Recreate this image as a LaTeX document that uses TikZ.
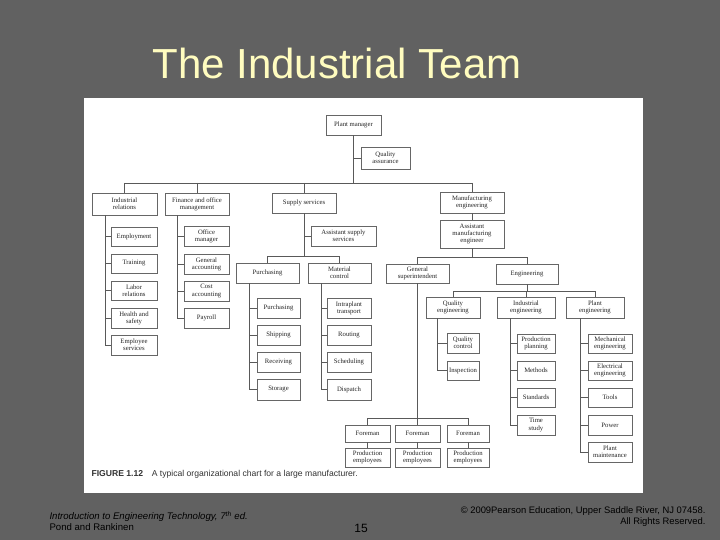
\documentclass[tikz,border=0pt]{standalone}
\usepackage{fontspec}
\setmainfont{Liberation Serif}
\newfontfamily\sansf{Liberation Sans}
\begin{document}
\begin{tikzpicture}[x=1pt,y=-1pt,
  box/.style={draw=black!60,line width=0.6pt,fill=white,inner sep=0pt,align=center,font=\fontsize{6.7}{7.2}\selectfont,text=black!85},
  ln/.style={draw=black!65,line width=0.6pt}]
\fill[black!62] (0,0) rectangle (720,540);
\useasboundingbox (0,0) rectangle (720,540);
\fill[white] (84,98) rectangle (643,493);
\node[text=yellow!25!white,font=\sansf\fontsize{42}{44}\selectfont] (title) at (337,63) {The Industrial Team};
\newcommand\bx[6]{\node[box,minimum width={#4-#2},minimum height={#5-#3}] (#1) at ({(#2+#4)/2},{(#3+#5)/2}) {#6};}
\newcommand\spine[4]{\coordinate (s#1) at (#2,0); \draw[ln] (s#1 |- #1.south) -- (s#1 |- #3.west);
  \foreach \c in {#4}{\draw[ln] (s#1 |- \c.west) -- (\c.west);}}
% boxes
\bx{pm}{326}{115}{381}{135}{Plant manager}
\bx{qa}{361}{147}{410}{169}{Quality\\assurance}
\bx{ir}{92}{193}{157}{215}{Industrial\\relations}
\bx{fo}{165}{193}{229}{215}{Finance and office\\management}
\bx{ss}{272}{193}{336}{213}{Supply services}
\bx{me}{440}{192}{504}{213}{Manufacturing\\engineering}
\bx{ame}{440}{220}{504}{248}{Assistant\\manufacturing\\engineer}
\bx{emp}{111}{227}{157}{246}{Employment}
\bx{tr}{111}{254}{157}{273}{Training}
\bx{lr}{111}{281}{157}{300}{Labor\\relations}
\bx{hs}{111}{308}{157}{328}{Health and\\safety}
\bx{es}{111}{335}{157}{355}{Employee\\services}
\bx{om}{184}{226}{229}{246}{Office\\manager}
\bx{ga}{184}{254}{229}{274}{General\\accounting}
\bx{ca}{184}{281}{229}{301}{Cost\\accounting}
\bx{pay}{184}{308}{229}{328}{Payroll}
\bx{ass}{311}{226}{376}{246}{Assistant supply\\services}
\bx{pu}{236}{263}{299}{283}{Purchasing}
\bx{mc}{308}{263}{371}{283}{Material\\control}
\bx{pu1}{257}{298}{300}{318}{Purchasing}
\bx{sh}{257}{325}{300}{345}{Shipping}
\bx{re}{257}{352}{300}{372}{Receiving}
\bx{st}{257}{379}{300}{400}{Storage}
\bx{it}{327}{298}{371}{318}{Intraplant\\transport}
\bx{ro}{327}{325}{371}{345}{Routing}
\bx{sc}{327}{352}{371}{372}{Scheduling}
\bx{di}{327}{379}{371}{400}{Dispatch}
\bx{gs}{386}{264}{449}{283}{General\\superintendent}
\bx{en}{496}{264}{558}{284}{Engineering}
\bx{qe}{426}{297}{480}{318}{Quality\\engineering}
\bx{ie}{497}{297}{555}{318}{Industrial\\engineering}
\bx{pe}{566}{297}{624}{318}{Plant\\engineering}
\bx{qc}{447}{333}{479}{353}{Quality\\control}
\bx{ins}{447}{361}{479}{380}{Inspection}
\bx{pp}{517}{334}{555}{353}{Production\\planning}
\bx{mt}{517}{361}{555}{380}{Methods}
\bx{sd}{517}{388}{555}{407}{Standards}
\bx{ts}{517}{415}{555}{435}{Time\\study}
\bx{mec}{588}{334}{632}{353}{Mechanical\\engineering}
\bx{ele}{588}{361}{632}{380}{Electrical\\engineering}
\bx{to}{588}{388}{632}{407}{Tools}
\bx{pw}{588}{415}{632}{435}{Power}
\bx{pmn}{588}{442}{632}{462}{Plant\\maintenance}
\bx{f1}{345}{425}{390}{442}{Foreman}
\bx{f2}{395}{425}{440}{442}{Foreman}
\bx{f3}{447}{425}{489}{442}{Foreman}
\bx{p1}{345}{448}{390}{467}{Production\\employees}
\bx{p2}{395}{448}{440}{467}{Production\\employees}
\bx{p3}{447}{448}{489}{467}{Production\\employees}
% connectors
\coordinate (b1) at (0,183); \coordinate (b2) at (0,256); \coordinate (b3) at (0,257);
\coordinate (b4) at (0,291); \coordinate (b5) at (0,418);
\draw[ln] (pm.south) -- (pm.south |- b1);
\draw[ln] (pm.south |- qa.west) -- (qa.west);
\draw[ln] (ir.north |- b1) -- (me.north |- b1);
\foreach \n in {ir,fo,ss,me}{\draw[ln] (\n.north |- b1) -- (\n.north);}
\draw[ln] (me) -- (ame);
\spine{ir}{105}{es}{emp,tr,lr,hs,es}
\spine{fo}{177}{pay}{om,ga,ca,pay}
\draw[ln] (ss.south) -- (ss.south |- b2);
\draw[ln] (ss.south |- ass.west) -- (ass.west);
\draw[ln] (pu.north |- b2) -- (mc.north |- b2);
\foreach \n in {pu,mc}{\draw[ln] (\n.north |- b2) -- (\n.north);}
\spine{pu}{249}{st}{pu1,sh,re,st}
\spine{mc}{321}{di}{it,ro,sc,di}
\draw[ln] (ame.south) -- (ame.south |- b3);
\draw[ln] (gs.north |- b3) -- (en.north |- b3);
\foreach \n in {gs,en}{\draw[ln] (\n.north |- b3) -- (\n.north);}
\draw[ln] (en.south) -- (en.south |- b4);
\draw[ln] (qe.north |- b4) -- (pe.north |- b4);
\foreach \n in {qe,ie,pe}{\draw[ln] (\n.north |- b4) -- (\n.north);}
\spine{qe}{437}{ins}{qc,ins}
\spine{ie}{510}{ts}{pp,mt,sd,ts}
\spine{pe}{580}{pmn}{mec,ele,to,pw,pmn}
\coordinate (sgs) at (417,0);
\draw[ln] (sgs |- gs.south) -- (sgs |- b5);
\draw[ln] (f1.north |- b5) -- (f3.north |- b5);
\foreach \n in {f1,f2,f3}{\draw[ln] (\n.north |- b5) -- (\n.north);}
\draw[ln] (f1) -- (p1); \draw[ln] (f2) -- (p2); \draw[ln] (f3) -- (p3);
\node[anchor=west,font=\sansf\fontsize{8.6}{9}\selectfont,text=black!80] (cap) at (88,474) {\textbf{FIGURE 1.12}\quad A typical organizational chart for a large manufacturer.};
% footer
\node[anchor=west,align=left,text=black,font=\sansf\fontsize{9.6}{11}\selectfont] (ft1) at (46,521) {\textit{Introduction to Engineering Technology, 7\textsuperscript{th} ed.}\\Pond and Rankinen};
\node[text=black,font=\sansf\fontsize{12}{13}\selectfont] (pg) at (361,528) {15};
\node[anchor=east,align=right,text=black,font=\sansf\fontsize{9.4}{11}\selectfont] (ft2) at (709,517) {© 2009Pearson Education, Upper Saddle River, NJ 07458.\\All Rights Reserved.};
\end{tikzpicture}
\end{document}
